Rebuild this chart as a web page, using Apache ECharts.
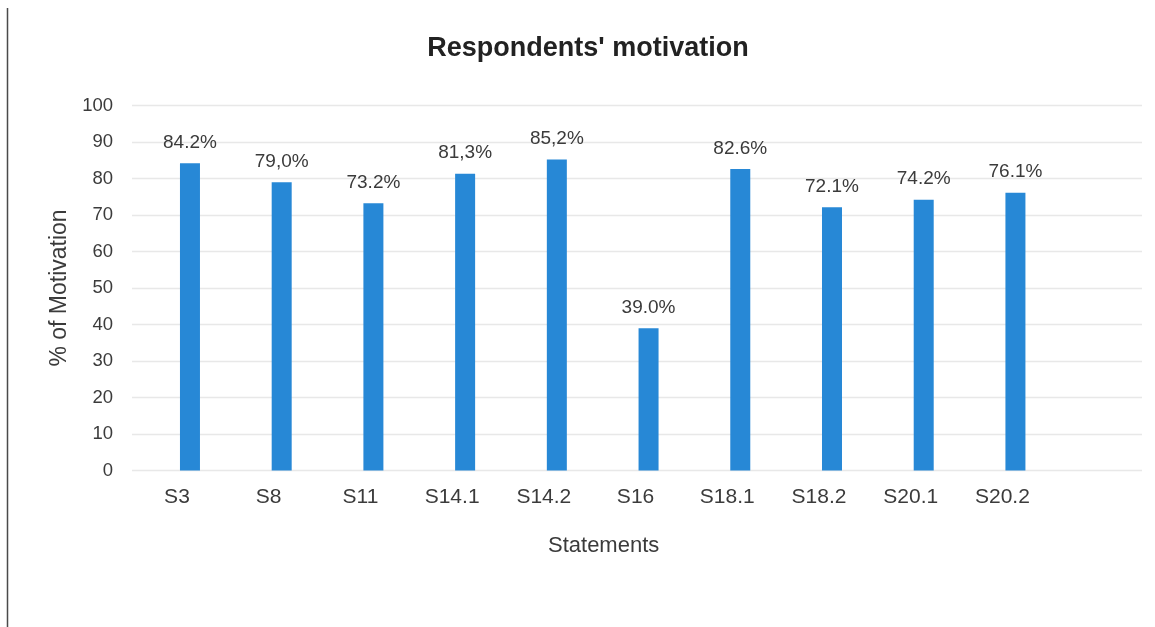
<!DOCTYPE html>
<html>
<head>
<meta charset="utf-8">
<title>Respondents' motivation</title>
<script src="https://cdn.jsdelivr.net/npm/echarts@6/dist/echarts.min.js"></script>
<style>
  html, body { margin: 0; padding: 0; background: #ffffff; }
  #chart { width: 1155px; height: 627px; }
</style>
</head>
<body>
<div id="chart"></div>
<script>
// Statements on the horizontal axis
const categories = ['S3', 'S8', 'S11', 'S14.1', 'S14.2', 'S16', 'S18.1', 'S18.2', 'S20.1', 'S20.2'];
// Share of motivated respondents per statement (%)
const motivation = [84.2, 79.0, 73.2, 81.3, 85.2, 39.0, 82.6, 72.1, 74.2, 76.1];
// Value labels as printed above the bars
const valueLabels = ['84.2%', '79,0%', '73.2%', '81,3%', '85,2%', '39.0%', '82.6%', '72.1%', '74.2%', '76.1%'];
// Vertical axis ticks
const yTicks = [0, 10, 20, 30, 40, 50, 60, 70, 80, 90, 100];

const FONT = '"Liberation Sans", Arial, sans-serif';
const TEXT = '#3b3b3b';

const chart = echarts.init(document.getElementById('chart'), null, { renderer: 'canvas' });

const positions = categories.map((_, i) => i);

chart.setOption({
  backgroundColor: '#ffffff',
  animation: false,
  title: {
    text: "Respondents' motivation",
    left: 583,
    top: 30,
    textAlign: 'center',
    textStyle: { fontFamily: FONT, fontSize: 27, fontWeight: 'bold', color: '#222222' }
  },
  grid: { left: 132, right: 13, top: 105.5, bottom: 156.5 },
  xAxis: {
    type: 'value',
    min: -0.632,
    max: 10.38,
    splitLine: { show: false },
    axisLine: { show: false },
    axisTick: { show: false },
    axisLabel: {
      customValues: positions,
      formatter: v => categories[Math.round(v)] || '',
      fontFamily: FONT,
      fontSize: 21,
      color: TEXT,
      margin: 16,
      padding: [0, 26, 0, 0]
    }
  },
  yAxis: {
    type: 'value',
    min: yTicks[0],
    max: yTicks[yTicks.length - 1],
    interval: 10,
    name: '% of Motivation',
    nameLocation: 'middle',
    nameRotate: 90,
    nameGap: 59,
    nameTextStyle: { fontFamily: FONT, fontSize: 23, color: TEXT },
    axisLine: { show: false },
    axisTick: { show: false },
    axisLabel: { fontFamily: FONT, fontSize: 18.5, color: TEXT, margin: 19 },
    splitLine: { lineStyle: { color: '#e8e8e8', width: 1.3 } }
  },
  series: [{
    type: 'bar',
    data: motivation.map((v, i) => [positions[i], v]),
    barWidth: 20,
    itemStyle: { color: '#2788d6' },
    label: {
      show: true,
      position: 'top',
      distance: 11,
      formatter: p => valueLabels[p.dataIndex],
      fontFamily: FONT,
      fontSize: 19,
      color: TEXT
    }
  }],
  graphic: [
    {
      type: 'text',
      left: 548,
      top: 535,
      style: { text: 'Statements', fontFamily: FONT, fontSize: 22, fill: TEXT }
    },
    {
      type: 'line',
      shape: { x1: 7.5, y1: 8, x2: 7.5, y2: 627 },
      style: { stroke: '#4a4a4a', lineWidth: 1.5 }
    }
  ]
});
</script>
</body>
</html>
